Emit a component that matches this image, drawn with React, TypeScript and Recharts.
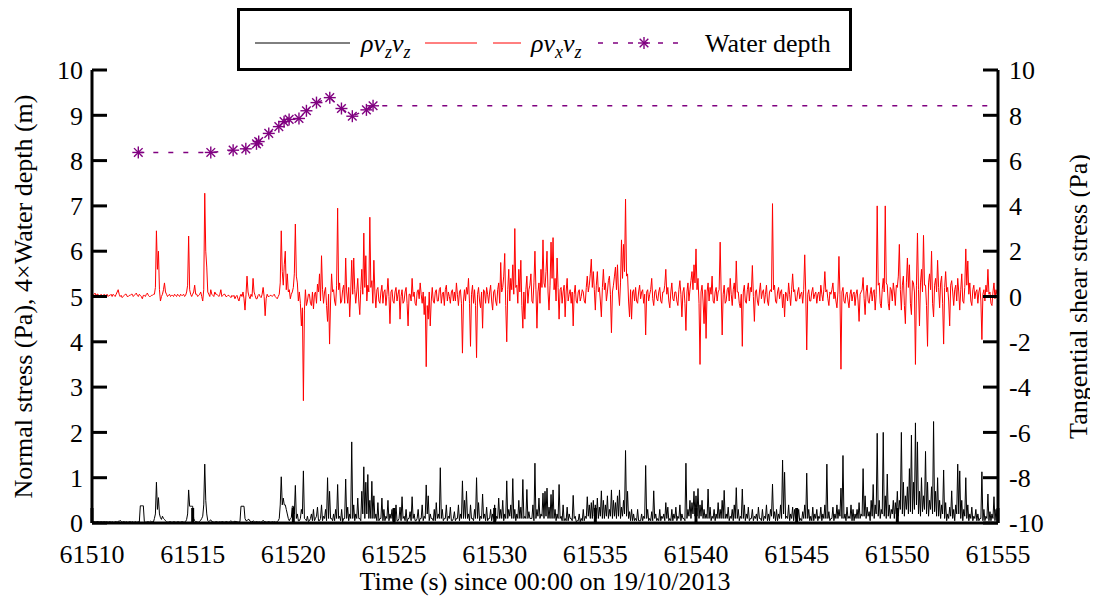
import React from 'react';
import { ComposedChart, Line, XAxis, YAxis, Legend, Label } from 'recharts';

const FONT = 'Liberation Serif, DejaVu Serif, Times New Roman, serif';

// sampling of the stress records (s)
const startTime = 61510;
const sampleStep = 0.05;

const xTicks = [61510, 61515, 61520, 61525, 61530, 61535, 61540, 61545, 61550, 61555];
const leftTicks = [0, 1, 2, 3, 4, 5, 6, 7, 8, 9, 10];
const rightTicks = [-10, -8, -6, -4, -2, 0, 2, 4, 6, 8, 10];

// rho vz vz, normal stress (Pa), one line per second
const normalA = [
  0.02, 0.03, 0.03, 0.02, 0.02, 0.03, 0.03, 0.02, 0.02, 0.03, 0.02, 0.02, 0.03, 0.02, 0.02, 0.03, 0.02, 0.03, 0.03, 0.02,
  0.03, 0.02, 0.02, 0.03, 0.03, 0.02, 0.04, 0.03, 0.06, 0.03, 0.02, 0.03, 0.03, 0.02, 0.03, 0.02, 0.02, 0.03, 0.03, 0.02,
  0.03, 0.02, 0.02, 0.03, 0.02, 0.02, 0.03, 0.02, 0.38, 0.38, 0.38, 0.38, 0.03, 0.02, 0.02, 0.03, 0.03, 0.02, 0.04, 0.03,
  0.03, 0.02, 0.1, 0.2, 0.9, 0.3, 0.56, 0.2, 0.12, 0.08, 0.15, 0.1, 0.08, 0.05, 0.03, 0.02, 0.02, 0.03, 0.03, 0.02,
  0.02, 0.03, 0.03, 0.02, 0.02, 0.03, 0.03, 0.02, 0.02, 0.03, 0.03, 0.02, 0.02, 0.03, 0.08, 0.2, 0.73, 0.37, 0.37, 0.37,
  0.37, 0.1, 0.05, 0.03, 0.03, 0.02, 0.02, 0.04, 0.06, 0.1, 0.15, 0.4, 1.3, 0.5, 0.2, 0.05, 0.03, 0.05, 0.07, 0.03,
  0.03, 0.02, 0.02, 0.03, 0.03, 0.02, 0.02, 0.03, 0.02, 0.03, 0.03, 0.02, 0.02, 0.03, 0.03, 0.02, 0.02, 0.03, 0.05, 0.03,
  0.02, 0.03, 0.04, 0.03, 0.03, 0.02, 0.02, 0.03, 0.37, 0.37, 0.37, 0.37, 0.1, 0.05, 0.05, 0.08, 0.08, 0.04, 0.03, 0.02,
  0.05, 0.03, 0.02, 0.03, 0.03, 0.02, 0.03, 0.02, 0.02, 0.03, 0.06, 0.03, 0.03, 0.02, 0.02, 0.03, 0.03, 0.02, 0.02, 0.03,
  0.02, 0.03, 0.02, 0.02, 0.03, 0.05, 0.1, 0.4, 1.02, 0.4, 0.55, 0.4, 0.4, 0.3, 0.2, 0.1, 0.05, 0.1, 0.12, 0.37,
  0.37, 0.2, 0.83, 0.1, 0.2, 0.05, 0.05, 0.1, 0.3, 0.2, 1.15, 0.1, 0.08, 0.05, 0.15, 0.03, 0.05, 0.1, 0.2, 0.05,
  0.3, 0.05, 0.1, 0.15, 0.35, 0.05, 0.05, 0.1, 0.4, 0.05, 0.15, 0.1, 0.3, 0.05, 1.0, 0.1, 0.7, 0.1, 0.1, 0.05,
  0.2, 0.05, 0.3, 0.1, 0.85, 0.1, 0.15, 0.05, 0.3, 0.03, 0.1, 0.1, 0.97, 0.1, 0.35, 0.05, 0.2, 0.1, 1.79, 0.1,
  0.4, 0.05, 0.2, 0.1, 0.55, 0.1, 0.1, 0.05, 0.7, 0.2, 1.24, 0.1, 0.9, 0.2, 1.07, 0.1, 0.5, 0.1, 0.92, 0.1,
  0.6, 0.1, 0.2, 0.05, 0.45, 0.05, 0.1, 0.1, 0.55, 0.05, 0.3, 0.05, 0.15, 0.1, 0.5, 0.05, 0.2, 0.1, 0.3, 0.05,
];
const normalB = [
  0.1, 0.05, 0.4, 0.05, 0.05, 0.1, 0.35, 0.05, 0.58, 0.1, 0.15, 0.05, 0.3, 0.03, 0.1, 0.1, 0.25, 0.05, 0.58, 0.1,
  0.2, 0.05, 0.05, 0.1, 0.3, 0.03, 0.1, 0.1, 0.4, 0.05, 0.15, 0.1, 0.84, 0.2, 0.6, 0.05, 0.2, 0.1, 0.1, 0.05,
  0.3, 0.05, 0.45, 0.1, 0.2, 0.1, 1.22, 0.1, 0.3, 0.05, 0.1, 0.1, 0.4, 0.05, 0.15, 0.1, 0.35, 0.05, 0.05, 0.1,
  0.25, 0.05, 0.1, 0.1, 0.4, 0.05, 0.2, 0.1, 0.93, 0.1, 0.5, 0.1, 0.7, 0.1, 0.2, 0.05, 0.4, 0.1, 0.1, 0.05,
  0.3, 0.1, 1.0, 0.1, 0.45, 0.05, 0.15, 0.1, 0.64, 0.1, 0.2, 0.05, 0.35, 0.05, 0.1, 0.1, 0.3, 0.05, 0.2, 0.1,
  0.4, 0.05, 0.15, 0.1, 0.55, 0.1, 0.3, 0.1, 0.5, 0.05, 0.2, 0.1, 0.93, 0.1, 0.3, 0.15, 0.4, 0.1, 0.98, 0.1,
  0.3, 0.05, 0.2, 0.1, 0.5, 0.1, 0.35, 0.1, 0.96, 0.1, 0.15, 0.1, 0.74, 0.1, 0.25, 0.1, 0.1, 0.1, 0.4, 0.05,
  1.32, 0.1, 0.3, 0.15, 0.55, 0.1, 0.2, 0.15, 0.66, 0.1, 0.7, 0.15, 0.77, 0.1, 0.35, 0.1, 0.63, 0.1, 0.73, 0.1,
  0.3, 0.05, 0.2, 0.1, 0.85, 0.1, 0.15, 0.05, 0.4, 0.05, 0.1, 0.05, 0.35, 0.05, 0.2, 0.1, 0.1, 0.05, 0.61, 0.1,
  0.15, 0.03, 0.05, 0.05, 0.2, 0.03, 0.1, 0.05, 0.3, 0.05, 0.15, 0.1, 0.58, 0.15, 0.4, 0.1, 0.45, 0.1, 0.5, 0.15,
  0.4, 0.1, 0.55, 0.1, 0.35, 0.15, 0.71, 0.1, 0.5, 0.1, 0.4, 0.15, 0.6, 0.1, 0.3, 0.15, 0.73, 0.1, 0.5, 0.15,
  0.45, 0.1, 0.6, 0.15, 0.73, 0.1, 0.35, 0.15, 0.5, 0.2, 1.6, 0.15, 0.7, 0.1, 0.25, 0.05, 0.3, 0.05, 0.2, 0.05,
  0.1, 0.05, 0.3, 0.05, 0.05, 0.05, 0.2, 0.05, 0.15, 0.1, 1.27, 0.1, 0.3, 0.05, 0.1, 0.05, 0.25, 0.05, 0.71, 0.1,
  0.2, 0.05, 0.1, 0.05, 0.3, 0.05, 0.15, 0.1, 0.2, 0.05, 0.45, 0.1, 0.35, 0.05, 0.1, 0.05, 0.3, 0.05, 0.2, 0.1,
  0.35, 0.05, 0.15, 0.1, 0.4, 0.05, 0.2, 0.1, 0.1, 0.05, 1.32, 0.1, 0.3, 0.15, 0.5, 0.1, 0.45, 0.2, 0.7, 0.15,
];
const normalC = [
  0.6, 0.15, 0.76, 0.1, 0.4, 0.15, 0.5, 0.1, 0.3, 0.1, 0.2, 0.1, 0.75, 0.1, 0.35, 0.05, 0.15, 0.1, 0.3, 0.05,
  0.2, 0.1, 0.45, 0.1, 0.3, 0.1, 0.5, 0.1, 0.72, 0.1, 0.2, 0.1, 0.35, 0.05, 0.15, 0.1, 0.3, 0.05, 0.4, 0.1,
  0.78, 0.1, 0.3, 0.05, 0.15, 0.1, 0.75, 0.1, 0.4, 0.05, 0.2, 0.1, 0.35, 0.05, 0.1, 0.1, 0.3, 0.05, 0.15, 0.1,
  0.2, 0.05, 0.35, 0.1, 0.1, 0.05, 0.3, 0.05, 0.15, 0.1, 0.4, 0.05, 0.2, 0.05, 0.3, 0.15, 0.86, 0.1, 0.25, 0.05,
  0.3, 0.05, 0.2, 0.1, 0.4, 0.1, 1.39, 0.2, 1.12, 0.1, 0.15, 0.1, 0.4, 0.05, 0.2, 0.1, 0.35, 0.05, 0.3, 0.1,
  0.15, 0.1, 0.3, 0.05, 0.1, 0.05, 0.25, 0.1, 0.4, 0.1, 1.1, 0.1, 0.3, 0.05, 0.15, 0.05, 0.35, 0.05, 0.2, 0.1,
  0.3, 0.05, 0.15, 0.1, 0.35, 0.05, 0.2, 0.1, 0.4, 0.1, 1.3, 0.1, 0.25, 0.05, 0.1, 0.1, 0.35, 0.05, 0.2, 0.1,
  0.4, 0.1, 0.3, 0.15, 0.77, 0.1, 1.49, 0.1, 0.2, 0.05, 0.35, 0.1, 0.15, 0.1, 0.4, 0.05, 0.3, 0.05, 0.2, 0.1,
  0.3, 0.1, 0.45, 0.1, 0.2, 0.15, 1.2, 0.15, 0.6, 0.1, 0.35, 0.15, 0.25, 0.05, 0.5, 0.15, 0.85, 0.1, 0.4, 0.2,
  1.98, 0.15, 0.5, 0.1, 0.3, 0.2, 2.0, 0.15, 0.6, 0.1, 1.08, 0.15, 0.4, 0.1, 0.3, 0.2, 0.5, 0.1, 0.45, 0.2,
  0.7, 0.15, 0.5, 0.3, 2.0, 0.2, 0.9, 0.15, 0.6, 0.3, 0.8, 0.2, 1.2, 0.25, 1.94, 0.2, 0.9, 0.3, 2.21, 0.4,
  1.79, 0.2, 0.7, 0.15, 1.0, 0.25, 0.6, 0.3, 1.58, 0.2, 0.9, 0.15, 0.5, 0.3, 0.8, 0.2, 2.24, 0.25, 0.7, 0.15,
  1.0, 0.15, 0.5, 0.1, 0.4, 0.2, 1.17, 0.1, 0.45, 0.05, 0.2, 0.1, 0.35, 0.15, 0.71, 0.1, 0.3, 0.05, 0.4, 0.2,
  1.3, 0.2, 1.15, 0.1, 0.5, 0.05, 0.3, 0.15, 1.0, 0.1, 0.4, 0.05, 0.2, 0.1, 0.35, 0.05, 0.15, 0.1, 0.3, 0.05,
  0.2, 0.05, 0.1, 0.1, 1.13, 0.05, 0.3, 0.05, 0.15, 0.1, 0.64, 0.05, 0.25, 0.05, 0.2, 0.1, 0.58, 0.05, 0.3, 0.05,
  0.2,
];

// rho vx vz, tangential shear stress (Pa), one line per second
const shearA = [
  0.1, 0.05, 0.1, 0.15, 0.05, 0.1, 0.1, 0.0, 0.0, 0.1, 0.05, 0.0, 0.1, 0.05, 0.05, 0.1, 0.0, 0.05, 0.05, 0.1,
  0.0, 0.1, 0.05, 0.0, 0.1, 0.2, 0.3, 0.1, 0.0, 0.05, -0.05, 0.0, 0.05, 0.1, 0.1, 0.0, 0.0, 0.05, 0.05, 0.1,
  0.1, 0.0, 0.05, 0.1, 0.15, 0.05, 0.0, 0.1, 0.05, 0.0, -0.1, 0.05, 0.05, 0.0, 0.1, 0.15, 0.05, 0.0, 0.0, 0.05,
  0.05, 0.1, 0.1, 0.4, 2.9, 1.2, 2.0, 0.3, -0.2, 0.0, 0.1, 0.3, 0.6, 0.2, 0.1, 0.0, 0.05, 0.1, 0.0, 0.05,
  0.05, 0.0, 0.1, 0.05, 0.0, 0.1, 0.05, 0.0, 0.1, 0.05, 0.05, 0.1, 0.0, 0.05, 0.2, 0.5, 2.67, 0.3, 0.1, 0.0,
  0.1, 0.2, 0.5, 0.1, 0.1, 0.0, 0.05, 0.1, 0.2, 0.0, -0.2, 0.3, 4.56, 2.0, 1.3, 0.2, 0.1, 0.0, 0.3, 0.1,
  0.05, 0.0, 0.2, 0.1, 0.1, 0.05, 0.0, 0.1, 0.3, 0.0, 0.05, 0.1, 0.1, 0.0, 0.0, 0.05, 0.05, 0.0, -0.05, 0.05,
  0.0, 0.05, -0.1, 0.0, 0.05, -0.1, -0.2, 0.0, 0.1, 0.0, 0.2, -0.1, -0.6, 0.1, 0.9, 0.2, 0.0, -0.1, 0.1, 0.0,
  0.8, 0.2, 0.05, -0.1, -0.1, 0.05, 0.1, 0.0, -0.05, 0.1, 0.4, 0.0, -0.85, -0.1, 0.1, 0.0, 0.0, 0.05, 0.05, 0.0,
  0.05, 0.1, 0.0, -0.05, -0.1, 0.0, 0.1, 0.6, 2.9, 1.1, 0.5, 1.4, 2.0, 0.3, 1.0, 0.2, 0.3, -0.1, 0.1, 0.2,
  0.4, 1.0, 3.2, 0.9, 0.6, -0.2, 0.2, -0.3, -1.3, -0.5, -4.6, -0.6, 0.3, -0.4, -0.2, 0.1, 0.1, -0.3, -0.4, 0.2,
  -0.55, 0.1, 0.2, -0.3, 0.55, 0.2, 1.0, -0.2, 1.8, 0.3, -0.3, 0.2, 0.4, -0.4, -1.1, 0.1, -2.1, -0.2, 1.0, 0.2,
  0.3, -0.2, -0.4, 0.5, 3.9, 0.3, 0.6, -0.3, -0.2, 0.3, 0.5, -0.3, 1.7, 0.2, -0.3, 0.4, -0.9, 0.2, 1.6, 0.1,
  1.7, 0.3, -0.3, 0.2, 0.8, -0.2, -0.8, 0.3, 1.2, 0.1, 2.8, 0.4, 1.8, -0.2, 0.5, 0.2, 3.5, 0.4, 0.7, -0.3,
  1.6, 0.2, -0.5, 0.3, 0.4, -0.2, -0.3, 0.2, 0.5, -0.3, 0.2, 0.3, -0.4, 0.1, 0.8, 0.0, -1.2, 0.2, 0.3, -0.2,
];
const shearB = [
  -0.3, 0.2, 0.4, -0.2, 0.1, 0.3, -1.0, 0.0, 0.3, -0.3, -0.2, 0.2, 0.4, -0.3, -1.3, 0.1, 0.1, -0.2, 0.8, 0.0,
  0.2, -0.3, -0.4, 0.2, 0.3, -0.1, 0.6, 0.1, -0.3, 0.2, -0.8, 0.0, -3.1, -0.4, -1.0, 0.2, -1.3, -0.2, 0.4, -0.2,
  -0.3, 0.2, 0.3, -0.2, -0.2, 0.3, 0.4, -0.3, 0.1, 0.2, -0.4, 0.3, 0.5, -0.2, 0.2, 0.0, -0.3, 0.2, 0.3, -0.2,
  0.2, -0.2, 0.6, 0.1, -0.4, 0.2, 0.3, -0.3, -2.5, -0.2, 0.3, -0.2, 0.4, 0.1, 0.8, -0.3, -2.2, 0.1, 0.5, -0.3,
  0.3, -0.4, -2.7, 0.1, 0.4, -0.2, -0.5, 0.2, -1.4, 0.3, 0.2, -0.3, 0.4, 0.1, -0.3, 0.2, 0.5, -0.2, -0.6, 0.2,
  0.3, -0.2, -0.4, 0.3, 0.6, -0.3, 1.5, 0.2, 0.4, 0.9, 1.9, -0.4, -2.0, 0.3, 1.2, -0.2, 0.8, 0.3, 1.4, 0.1,
  3.0, 0.4, 0.5, -0.3, 1.2, 0.2, 1.6, -0.4, -1.4, 0.2, -1.0, 0.3, 0.9, -0.3, 0.3, 0.5, 1.0, -0.2, -0.3, 0.6,
  2.0, 0.3, -1.4, 0.2, 0.6, -0.3, 1.2, 0.4, 2.5, 0.6, 0.4, 1.1, 2.0, 0.2, -0.6, 0.5, 2.4, 0.8, 2.6, 0.3,
  0.8, -0.2, 1.7, 0.4, -1.0, 0.3, 0.4, -0.3, 0.2, 0.5, -0.9, 0.2, 0.8, -0.2, 0.1, 0.3, -0.3, 0.2, -1.3, 0.1,
  0.5, -0.2, -0.3, 0.2, 0.3, -0.2, 0.0, 0.3, 0.2, -0.2, -0.3, 0.4, 0.9, 0.2, 0.5, 1.0, 1.65, 0.4, 1.1, 0.3,
  -0.6, 0.5, 1.1, 0.2, 0.4, -0.2, -0.9, 0.4, 1.2, 0.3, 0.6, -0.2, 0.2, 0.7, 0.9, 0.1, -1.6, 0.2, 0.5, 0.9,
  1.3, 0.3, 1.4, 0.2, -0.4, 0.6, 2.5, 0.8, 2.3, 1.1, 4.3, 0.9, 1.0, -0.2, -0.9, 0.3, -1.0, 0.2, 0.3, -0.2,
  0.4, -0.2, -0.3, 0.2, 0.5, -0.1, 0.2, 0.3, -0.3, 0.1, -1.7, 0.2, 0.3, -0.2, 0.1, 0.3, 0.8, -0.1, -0.4, 0.2,
  0.3, -0.1, -0.2, 0.2, 0.4, -0.2, -0.3, 0.2, 0.2, 0.5, 1.2, 0.1, 0.4, -0.2, -0.5, 0.2, 0.6, -0.1, -0.2, 0.2,
  0.2, -0.2, -0.4, 0.3, 0.7, 0.1, -0.9, 0.2, 0.4, -0.3, -1.5, 0.2, 0.6, -0.2, 0.3, 0.7, 1.1, 0.3, 1.4, 0.6,
];
const shearC = [
  2.1, 0.3, 0.8, -0.3, -3.0, 0.2, 0.5, -0.2, -1.2, 0.3, -1.85, 0.2, 0.6, -0.2, 0.4, 0.1, 0.9, -0.2, -0.3, 0.2,
  0.4, -0.2, 0.2, 0.3, 2.4, 0.2, -1.7, 0.1, 0.5, -0.3, -0.2, 0.3, 0.4, -0.2, 0.8, 0.1, -0.4, 0.3, 0.6, -0.1,
  1.57, 0.2, 0.2, -0.3, -0.5, 0.1, -2.2, 0.2, 0.5, -0.2, -0.3, 0.3, 0.6, -0.2, 0.4, 0.2, 1.37, 0.0, -1.1, 0.2,
  0.3, -0.2, -0.4, 0.2, 0.6, -0.1, 0.2, 0.3, -0.3, 0.1, 0.5, -0.2, -0.4, 0.2, 0.3, 0.2, 4.1, 0.3, 0.5, -0.2,
  -0.3, 0.2, 0.4, -0.1, 0.2, 0.3, -0.5, 0.1, -0.9, 0.2, 0.1, -0.2, 0.6, 0.1, -0.4, 0.3, 1.0, 0.2, 0.3, -0.2,
  -0.2, 0.2, 0.4, -0.1, 0.1, 0.2, -0.3, 0.3, 1.84, 0.2, -2.36, 0.1, 0.3, -0.2, -0.2, 0.2, 0.4, -0.1, 0.1, 0.2,
  -0.3, 0.1, 0.2, -0.2, 0.5, 0.1, -0.2, 0.3, 1.1, 0.2, 0.3, -0.1, -0.4, 0.2, 0.1, 0.3, 0.6, -0.1, 0.2, -0.2,
  -0.5, 0.2, 1.77, 0.1, -3.21, 0.2, 0.4, -0.2, -0.3, 0.1, 0.2, -0.2, -0.5, 0.1, 0.3, -0.2, 0.1, 0.2, -0.4, 0.1,
  0.3, -0.2, -1.1, 0.1, 0.2, 0.3, 0.84, -0.1, -0.8, 0.2, 0.5, -0.2, -0.3, 0.1, 0.4, -0.2, 0.2, 0.3, -0.6, 0.1,
  4.0, 0.5, 0.6, -0.3, -0.5, 0.3, 0.8, 0.2, 4.0, 0.6, 0.5, -0.3, -0.6, 0.4, 0.3, -0.2, 0.6, 0.2, -0.4, 0.5,
  0.4, 0.9, 2.3, 0.3, -0.6, 0.5, 0.9, -0.4, -1.2, 0.6, 1.7, 0.4, 1.4, -0.3, -0.8, 0.7, 0.6, 0.2, -3.0, 0.5,
  2.8, 0.3, -1.3, 0.6, 1.2, 0.2, 2.7, 0.5, 0.5, -0.4, -2.2, 0.6, 1.0, 0.3, 2.0, -0.3, -0.9, 0.5, 0.8, 0.2,
  1.6, 0.4, -0.5, 0.6, 0.9, -0.3, -2.1, 0.4, 1.1, 0.2, 0.4, -0.2, -1.3, 0.5, 0.7, 0.2, -0.4, 0.3, 0.5, -0.2,
  0.8, 0.2, -0.6, 0.3, 1.0, -0.2, -0.3, 0.4, 2.1, 0.5, 1.57, 0.1, 0.6, -0.2, -0.4, 0.3, 0.5, -0.1, 0.2, 0.3,
  -0.3, 0.2, 0.4, -0.2, -1.9, 0.1, 0.3, -0.2, 0.5, 0.2, 1.2, 0.1, 0.2, -0.3, -0.4, 0.2, 0.6, -0.1, 0.3, 0.1,
  0.2,
];

// water depth record (plotted as 4 x depth); the last point only carries the dashed line
const depthTimes = [
  61512.3, 61515.9, 61517.01, 61517.64, 61518.17, 61518.28, 61518.78, 61519.28, 61519.54,
  61519.79, 61520.28, 61520.65, 61521.15, 61521.81, 61522.39, 61522.93, 61523.63, 61523.96, 61555,
];
const depthScaled = [
  8.18, 8.18, 8.23, 8.26, 8.37, 8.42, 8.6, 8.75, 8.86,
  8.91, 8.93, 9.1, 9.28, 9.39, 9.15, 8.98, 9.12, 9.21, 9.21,
];
const starCount = 18;

const normalStress = [...normalA, ...normalB, ...normalC];
const shearStress = [...shearA, ...shearB, ...shearC];
const rows = normalStress.map((v, i) => ({
  t: +(startTime + i * sampleStep).toFixed(2),
  normal: v,
  shear: shearStress[i],
}));
const depthRows = depthTimes.map((t, i) => ({ t, depth: depthScaled[i] }));

const PURPLE = '#800080';
const textCss = { fontFamily: FONT };

function StarDot(props: any) {
  const { cx, cy, index } = props;
  if (index >= starCount || cx == null || cy == null) return <g key={`st${index}`} />;
  const r = 6;
  const d = r * 0.72;
  return (
    <g key={`st${index}`} stroke={PURPLE} strokeWidth={1.4}>
      <line x1={cx - r} y1={cy} x2={cx + r} y2={cy} />
      <line x1={cx} y1={cy - r} x2={cx} y2={cy + r} />
      <line x1={cx - d} y1={cy - d} x2={cx + d} y2={cy + d} />
      <line x1={cx - d} y1={cy + d} x2={cx + d} y2={cy - d} />
    </g>
  );
}

function LegendBox() {
  const sub = { fontSize: 18 };
  return (
    <svg width={615} height={63} style={{ display: 'block' }}>
      <rect x={1.5} y={1.5} width={612} height={60} fill="#fff" stroke="#000" strokeWidth={3} />
      <g style={textCss} fontSize={26} fill="#000">
        <line x1={18} y1={35} x2={113} y2={35} stroke="#000" strokeWidth={1} />
        <text x={124} y={44} fontStyle="italic" style={textCss}>
          ρv<tspan dy={6} style={sub}>z</tspan><tspan dy={-6}>v</tspan><tspan dy={6} style={sub}>z</tspan>
        </text>
        <line x1={188} y1={35} x2={284} y2={35} stroke="#ff0000" strokeWidth={1} strokeDasharray="52 16" />
        <text x={294} y={44} fontStyle="italic" style={textCss}>
          ρv<tspan dy={6} style={sub}>x</tspan><tspan dy={-6}>v</tspan><tspan dy={6} style={sub}>z</tspan>
        </text>
        <line x1={361} y1={35} x2={451} y2={35} stroke={PURPLE} strokeWidth={1.4} strokeDasharray="5 10" />
        <StarDot cx={407} cy={35} index={0} />
        <text x={468} y={44} style={textCss}>Water depth</text>
      </g>
    </svg>
  );
}

const tickStyle = { fill: '#000', fontSize: 26, fontFamily: FONT, style: textCss };
const frame = { stroke: '#000', strokeWidth: 3 };

function LeftTitle(props: any) {
  const { viewBox } = props;
  const cx = viewBox.x + 15;
  const cy = viewBox.y + viewBox.height / 2;
  return (
    <text x={cx} y={cy} transform={`rotate(-90 ${cx} ${cy})`} textAnchor="middle" dominantBaseline="central"
      style={textCss} fontSize={26} fill="#000">
      Normal stress (Pa), 4×Water depth (m)
    </text>
  );
}

function RightTitle(props: any) {
  const { viewBox } = props;
  const cx = viewBox.x + 80;
  const cy = viewBox.y + viewBox.height / 2;
  return (
    <text x={cx} y={cy} transform={`rotate(-90 ${cx} ${cy})`} textAnchor="middle" dominantBaseline="central"
      style={textCss} fontSize={26} fill="#000">
      Tangential shear stress (Pa)
    </text>
  );
}

function BottomTitle(props: any) {
  const { viewBox } = props;
  return (
    <text x={viewBox.x + viewBox.width / 2} y={viewBox.y + 67} textAnchor="middle"
      style={textCss} fontSize={26} fill="#000">
      Time (s) since 00:00 on 19/10/2013
    </text>
  );
}

export default function App() {
  return (
    <div style={{ width: 1090, height: 593, fontFamily: FONT }}>
      <ComposedChart width={1090} height={593} data={rows} margin={{ top: 62, right: 0, bottom: 0, left: 0 }}
        style={textCss}>
        <XAxis
          dataKey="t"
          type="number"
          domain={[61510, 61555]}
          ticks={xTicks}
          interval={0}
          allowDataOverflow
          height={78}
          tickSize={-15}
          tickMargin={37}
          tick={tickStyle}
          tickLine={frame}
          axisLine={frame}
          label={<Label content={BottomTitle} />}
        />
        <XAxis
          xAxisId="top"
          orientation="top"
          dataKey="t"
          type="number"
          domain={[61510, 61555]}
          ticks={xTicks}
          interval={0}
          allowDataOverflow
          height={0}
          tickSize={-15}
          tick={false}
          tickLine={frame}
          axisLine={frame}
        />
        <YAxis
          yAxisId="left"
          type="number"
          domain={[0, 10]}
          ticks={leftTicks}
          interval={0}
          allowDataOverflow
          width={84}
          tickSize={-15}
          tickMargin={24}
          tick={tickStyle}
          tickLine={frame}
          axisLine={frame}
          label={<Label content={LeftTitle} />}
        />
        <YAxis
          yAxisId="right"
          orientation="right"
          type="number"
          domain={[-10, 10]}
          ticks={rightTicks}
          interval={0}
          allowDataOverflow
          width={100}
          tickSize={-15}
          tickMargin={26}
          tick={tickStyle}
          tickLine={frame}
          axisLine={frame}
          label={<Label content={RightTitle} />}
        />
        <Legend
          verticalAlign="middle"
          align="center"
          layout="horizontal"
          content={() => <LegendBox />}
          wrapperStyle={{ top: 0, left: 229, width: 615, height: 63 }}
        />
        <Line
          yAxisId="left"
          dataKey="normal"
          type="linear"
          stroke="#000"
          strokeWidth={1}
          dot={false}
          isAnimationActive={false}
        />
        <Line
          yAxisId="right"
          dataKey="shear"
          type="linear"
          stroke="#ff0000"
          strokeWidth={1}
          dot={false}
          isAnimationActive={false}
        />
        <Line
          yAxisId="left"
          data={depthRows}
          dataKey="depth"
          type="linear"
          stroke={PURPLE}
          strokeWidth={1.4}
          strokeDasharray="5 10"
          dot={StarDot}
          isAnimationActive={false}
        />
      </ComposedChart>
    </div>
  );
}
